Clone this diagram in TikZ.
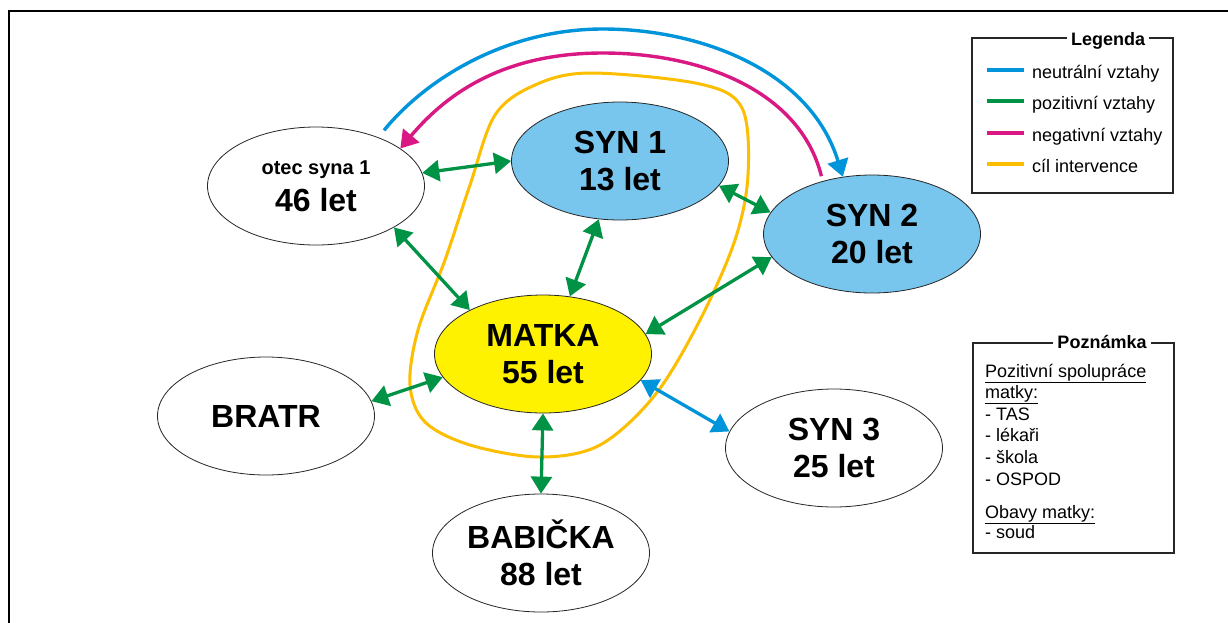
\documentclass[tikz,border=0pt]{standalone}
\usepackage{fontspec}
\setmainfont{Liberation Sans}
\usetikzlibrary{arrows.meta,shapes.geometric}
\definecolor{cgreen}{RGB}{0,146,69}
\definecolor{cblue}{RGB}{0,149,218}
\definecolor{cmag}{RGB}{218,24,132}
\definecolor{cgold}{RGB}{252,190,0}
\definecolor{cfillblue}{RGB}{120,197,238}
\definecolor{cfillyellow}{RGB}{255,242,0}
\tikzset{>={Triangle[length=17pt,width=21pt]}}
\begin{document}
\begin{tikzpicture}[x=1pt,y=-1pt,
  person/.style={ellipse, draw=black!85, line width=0.8pt, minimum width=217pt,
    minimum height=118pt, inner sep=0pt, align=center,
    font=\bfseries\fontsize{32}{37}\selectfont},
  tipd/.style={->},
  rel/.style={line width=3.3pt, <->},
  posrel/.style={rel, cgreen},
  neurel/.style={rel, cblue},
  arcline/.style={line width=3.4pt},
  boxframe/.style={draw=black!85, line width=1.3pt},
  boxtitle/.style={fill=white, inner sep=4pt, font=\bfseries\fontsize{18}{20}\selectfont},
  legtext/.style={anchor=base west, inner sep=0pt, font=\fontsize{18}{20}\selectfont},
  swatch/.style={line width=4pt}
]
\useasboundingbox (0,0) rectangle (1228,622);
\fill[white] (0,0) rectangle (1228,622);
% frame
\draw[line width=2pt] (9,630) -- (9,11) -- (1235,11);

% target of intervention
\draw[cgold, line width=3pt] plot[smooth cycle, tension=0.55] coordinates {
  (590,73) (700,84) (742,108) (748,175) (735,240) (700,320) (655,395)
  (600,445) (540,457) (470,445) (425,422) (410,385) (418,330)
  (445,260) (470,185) (495,115) (535,85)};

% persons
\node[person, fill=cfillblue] (syn1) at (620,161) {SYN 1\\13 let};
\node[person, fill=cfillblue] (syn2) at (872,234) {SYN 2\\20 let};
\node[person, fill=cfillyellow] (matka) at (543,354) {MATKA\\55 let};
\node[person, fill=white] (otec) at (316,186) {{\fontsize{20}{24}\selectfont otec syna 1}\\46 let};
\node[person, fill=white] (bratr) at (266,416) {BRATR};
\node[person, fill=white] (syn3) at (834,448) {SYN 3\\25 let};
\node[person, fill=white] (babicka) at (541,553) {BABIČKA\\88 let};

% relations
\draw[posrel] (otec.7) -- (syn1.180);
\draw[posrel] (otec.-28) -- (matka.149);
\draw[posrel] (syn1.-110) -- (matka.65);
\draw[posrel] (syn1.-14) -- (syn2.168);
\draw[posrel] (matka.11) -- (syn2.193);
\draw[posrel] (matka.193) -- (bratr.8);
\draw[posrel] (matka.south) -- (babicka.north);
\draw[neurel] (matka.-15) -- (syn3.171);

% arcs
\coordinate (bluetop) at (603,29);
\coordinate (magtop) at (603,53);
\draw[cblue, arcline, tipd, shorten <=9pt] (otec.38) .. controls (425,80) and (505,29) .. (bluetop)
  .. controls (700,29) and (810,70) .. (syn2.117);
\draw[cmag, arcline, tipd, shorten <=5pt] (syn2.133) .. controls (800,90) and (700,53) .. (magtop)
  .. controls (505,53) and (448,92) .. (otec.24);

% legend
\draw[boxframe] (972,38) rectangle (1173,193);
\node[boxtitle] (legtitle) at (1108,41) {Legenda};
\draw[swatch, cblue] (987,70) -- (1024,70);
\draw[swatch, cgreen] (987,101) -- (1024,101);
\draw[swatch, cmag] (987,133) -- (1024,133);
\draw[swatch, cgold] (987,164) -- (1024,164);
\node[legtext] (l1) at (1032,78) {neutrální vztahy};
\node[legtext] (l2) at (1032,109) {pozitivní vztahy};
\node[legtext] (l3) at (1032,141) {negativní vztahy};
\node[legtext] (l4) at (1032,172) {cíl intervence};

% note
\draw[boxframe] (973,343) rectangle (1174,553);
\node[boxtitle] (notetitle) at (1102,342) {Poznámka};
\node[legtext] (n1) at (985,377) {\underline{Pozitivní spolupráce}};
\node[legtext] (n2) at (985,398) {\underline{matky:}};
\node[legtext] (n3) at (985,420) {- TAS};
\node[legtext] (n4) at (985,441.5) {- lékaři};
\node[legtext] (n5) at (985,463) {- škola};
\node[legtext] (n6) at (985,485) {- OSPOD};
\node[legtext] (n7) at (985,518) {\underline{Obavy matky:}};
\node[legtext] (n8) at (985,538.5) {- soud};
\end{tikzpicture}
\end{document}
